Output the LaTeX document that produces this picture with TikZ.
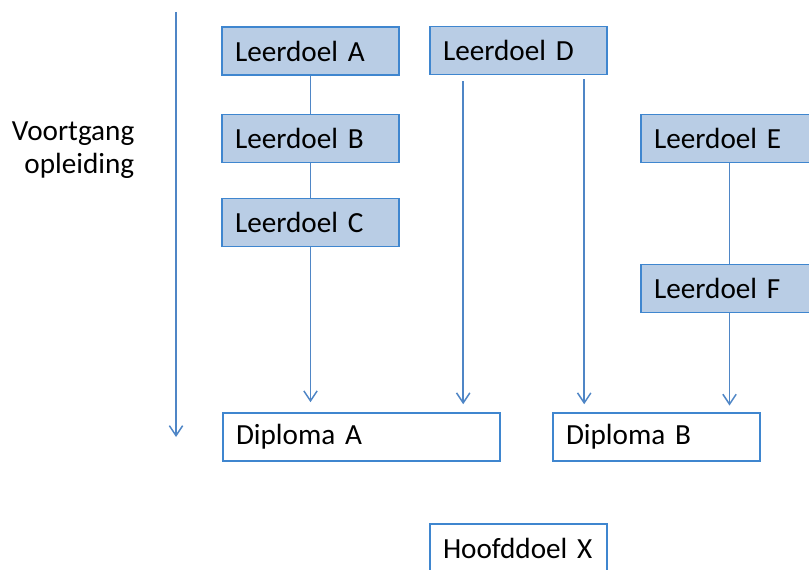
\documentclass[tikz,border=0pt]{standalone}
\usepackage{fontspec}
\setmainfont{Carlito}
\usetikzlibrary{arrows.meta,calc}
\definecolor{vakblauw}{HTML}{B9CDE5}
\definecolor{randblauw}{HTML}{3F86CF}
\definecolor{lijnblauw}{HTML}{4F86C6}
\newcommand\doelletter{\fontsize{21.9}{26}\selectfont}
\tikzset{
  doel/.style={draw=randblauw,line width=1.2pt,fill=vakblauw,text width=#1,align=left,
    inner xsep=9.75pt,inner ysep=0pt,minimum height=36pt,font=\doelletter},
  doel/.default=113.25pt,
  diploma/.style={doel=#1,fill=white},
  diploma/.default=113.25pt,
  verbinding/.style={draw=lijnblauw,line width=1.1pt},
  pijl/.style={verbinding,-{Straight Barb[length=7.5pt,width=10pt]}},
}
\begin{document}
\begin{tikzpicture}[x=0.75pt,y=-0.75pt]
  \useasboundingbox (0,0) rectangle (809,570);
  \clip (0,0) rectangle (809,570);
  \node[anchor=east,align=right,font=\fontsize{21.9}{24.75}\selectfont] (voortgang) at (139,150) {Voortgang\\opleiding};
  \coordinate (tijdbegin) at (176,12);
  \coordinate (tijdeind) at (176,437);
  \draw[pijl] (tijdbegin) -- (tijdeind);
  \node[doel] (A) at (310.5,51) {Leerdoel A};
  \node[doel] (B) at (310.5,138.5) {Leerdoel B};
  \node[doel] (C) at (310.5,222.5) {Leerdoel C};
  \node[doel] (D) at (518.5,50.5) {Leerdoel D};
  \node[doel] (E) at (729.5,138.5) {Leerdoel E};
  \node[doel] (F) at (729.5,288.5) {Leerdoel F};
  \node[diploma=188.25pt] (dipA) at (361.5,437) {Diploma A};
  \node[diploma=135.75pt] (dipB) at (656.5,437) {Diploma B};
  \node[diploma] (X) at (518.5,548) {Hoofddoel X};
  \coordinate (D1) at ($(D.south west)+(34,0)$);
  \coordinate (D2) at ($(D.south west)+(155,0)$);
  \draw[verbinding] (A) -- (B);
  \draw[verbinding] (B) -- (C);
  \draw[pijl,shorten >=7.5pt] (C) -- (C |- dipA.north);
  \draw[pijl,shorten <=4.5pt,shorten >=6pt] (D1) -- (D1 |- dipA.north);
  \draw[pijl,shorten <=3pt,shorten >=6pt] (D2) -- (D2 |- dipB.north);
  \draw[verbinding] (E) -- (F);
  \draw[pijl,shorten >=5pt] (F) -- (F |- dipB.north);
\end{tikzpicture}
\end{document}
